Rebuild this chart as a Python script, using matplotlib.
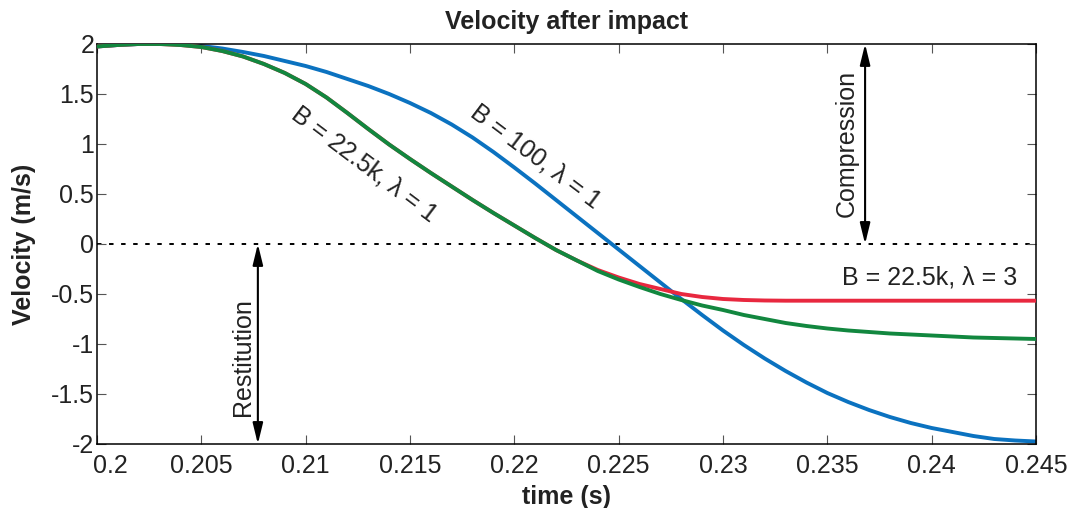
import matplotlib
matplotlib.use('Agg')
import matplotlib.pyplot as plt
from matplotlib.transforms import ScaledTranslation

plt.rcParams['font.family'] = ['Liberation Sans', 'DejaVu Sans']

# ── Données ────────────────────────────────────────────────────────────
t = [0.200, 0.201, 0.202, 0.203, 0.204, 0.205, 0.206, 0.207, 0.208, 0.209,
     0.210, 0.211, 0.212, 0.213, 0.214, 0.215, 0.216, 0.217, 0.218, 0.219,
     0.220, 0.221, 0.222, 0.223, 0.224, 0.225, 0.226, 0.227, 0.228, 0.229,
     0.230, 0.231, 0.232, 0.233, 0.234, 0.235, 0.236, 0.237, 0.238, 0.239,
     0.240, 0.241, 0.242, 0.243, 0.244, 0.245]

v_b100 = [1.975, 1.99, 2.00, 2.00, 2.00, 1.98, 1.955, 1.92, 1.88, 1.83,
          1.78, 1.72, 1.65, 1.58, 1.50, 1.41, 1.31, 1.195, 1.065, 0.92,
          0.765, 0.605, 0.44, 0.275, 0.11, -0.055, -0.22, -0.385, -0.55, -0.71,
          -0.865, -1.01, -1.145, -1.27, -1.385, -1.49, -1.58, -1.66, -1.73, -1.79,
          -1.84, -1.88, -1.92, -1.95, -1.965, -1.975]

v_b22k_l1 = [1.975, 1.99, 2.00, 2.00, 1.99, 1.97, 1.93, 1.875, 1.80, 1.71,
             1.60, 1.465, 1.31, 1.15, 0.995, 0.85, 0.71, 0.575, 0.44, 0.31,
             0.185, 0.06, -0.06, -0.165, -0.27, -0.355, -0.43, -0.50, -0.56, -0.615,
             -0.66, -0.71, -0.75, -0.79, -0.82, -0.845, -0.865, -0.88, -0.895, -0.905,
             -0.915, -0.925, -0.935, -0.94, -0.945, -0.95]

v_b22k_l3 = [1.975, 1.99, 2.00, 2.00, 1.99, 1.97, 1.93, 1.875, 1.80, 1.71,
             1.60, 1.465, 1.31, 1.15, 0.995, 0.85, 0.71, 0.575, 0.44, 0.31,
             0.185, 0.06, -0.06, -0.165, -0.26, -0.335, -0.40, -0.45, -0.50, -0.53,
             -0.55, -0.56, -0.565, -0.567, -0.567, -0.567, -0.567, -0.567, -0.567, -0.567,
             -0.567, -0.567, -0.567, -0.567, -0.567, -0.567]

xticks = [0.2, 0.205, 0.21, 0.215, 0.22, 0.225, 0.23, 0.235, 0.24, 0.245]
xticklabels = ['0.2', '0.205', '0.21', '0.215', '0.22', '0.225', '0.23', '0.235', '0.24', '0.245']
yticks = [-2, -1.5, -1, -0.5, 0, 0.5, 1, 1.5, 2]
yticklabels = ['-2', '-1.5', '-1', '-0.5', '0', '0.5', '1', '1.5', '2']

c_blue = '#0b72c0'
c_green = '#12873f'
c_red = '#e8283f'
txt = '#222222'

# ── Figure ─────────────────────────────────────────────────────────────
fig = plt.figure(figsize=(10.74, 5.08), dpi=100)
ax = fig.add_axes([0.0903, 0.126, 0.8743, 0.7874])

ax.axhline(0, color='black', lw=1.4, linestyle=(0, (2.3, 3.9)), zorder=1)
ax.plot(t, v_b100, color=c_blue, lw=2.8, zorder=2)
ax.plot(t, v_b22k_l3, color=c_red, lw=2.8, zorder=3)
ax.plot(t, v_b22k_l1, color=c_green, lw=2.8, zorder=4)

ax.set_xlim(0.2, 0.245)
ax.set_ylim(-2, 2)
ax.set_xticks(xticks)
ax.set_xticklabels(xticklabels)
ax.set_yticks(yticks)
ax.set_yticklabels(yticklabels)
ax.tick_params(direction='in', length=6.5, width=0.8, color='#555555',
               top=True, right=True, labelsize=18, labelcolor=txt)
ax.tick_params(axis='x', pad=7)
ax.tick_params(axis='y', pad=2)
for s in ax.spines.values():
    s.set_linewidth(1.1)
    s.set_color('black')

# premier label décalé à droite (comme MATLAB)
first = ax.get_xticklabels()[0]
first.set_ha('left')
first.set_transform(first.get_transform() + ScaledTranslation(-4 / 100, 0, fig.dpi_scale_trans))

ax.set_title('Velocity after impact', fontsize=18, fontweight='bold', color=txt, pad=11)
ax.set_xlabel('time (s)', fontsize=18, fontweight='bold', color=txt, labelpad=5)
ax.set_ylabel('Velocity (m/s)', fontsize=18, fontweight='bold', color=txt, labelpad=11)

# ── Flèches compression / restitution ──────────────────────────────────
arr = dict(arrowstyle='<|-|>,head_length=0.9,head_width=0.22', color='black',
           lw=1.5, shrinkA=0, shrinkB=0, mutation_scale=14)
ax.annotate('', xy=(0.23681, 2), xytext=(0.23681, 0), arrowprops=arr)
ax.annotate('', xy=(0.20771, 0), xytext=(0.20771, -2), arrowprops=arr)
ax.text(0.23595, 1.01, 'Compression', rotation=90, fontsize=18, color=txt,
        ha='center', va='center')
ax.text(0.20699, -1.13, 'Restitution', rotation=90, fontsize=18, color=txt,
        ha='center', va='center')

# ── Étiquettes des courbes ─────────────────────────────────────────────
ax.text(0.2210, 0.87, 'B = 100, λ = 1', rotation=-37, fontsize=18, color=txt,
        ha='center', va='center', rotation_mode='anchor')
ax.text(0.21283, 0.80, 'B = 22.5k, λ = 1', rotation=-37, fontsize=18, color=txt,
        ha='center', va='center', rotation_mode='anchor')
ax.text(0.23988, -0.34, 'B = 22.5k, λ = 3', fontsize=18, color=txt,
        ha='center', va='center')

fig.savefig('out.png', dpi=100)
